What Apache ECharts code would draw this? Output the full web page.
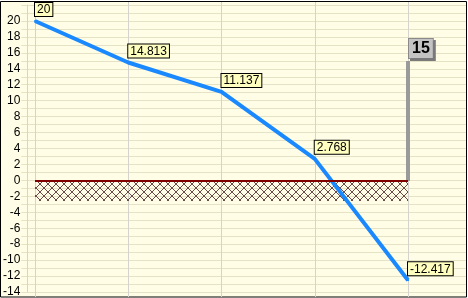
<!DOCTYPE html>
<html><head><meta charset="utf-8">
<script src="https://cdn.jsdelivr.net/npm/echarts@6/dist/echarts.min.js"></script>
<style>html,body{margin:0;padding:0;background:#fff}#c{width:468px;height:298px}</style>
</head><body><div id="c"></div>
<script>
// ---- data ----
const categories = [0, 1, 2, 3, 4];
const values = [20, 14.813, 11.137, 2.768, -12.417];
const markerCategory = [4];
const markerValue = [15];
const thresholdValue = 0;
const bandBottom = -2.5;
const yMin = -14, yMax = 22, yStep = 1;

// ---- styling ----
const FONT = 'Liberation Sans, Arial, sans-serif';
const BG = '#fffde6';
const HGRID = '#e6e2c6';
const VGRID = '#d4d4cc';

function hatch() {
  const c = document.createElement('canvas');
  c.width = 8; c.height = 8;
  const g = c.getContext('2d');
  g.fillStyle = '#6e4a4a';
  for (let i = 0; i < 8; i++) {
    g.fillRect(i, i, 1, 1);
    g.fillRect(7 - i, i, 1, 1);
  }
  return c;
}

const chart = echarts.init(document.getElementById('c'), null, {renderer: 'canvas'});
chart.setOption({
  animation: false,
  backgroundColor: '#ffffff',
  graphic: [{
    type: 'rect', z: -100, silent: true,
    shape: {x: 0.5, y: 1.5, width: 466, height: 295.5},
    style: {fill: BG, stroke: '#000', lineWidth: 1}
  }],
  grid: [
    {left: 27, right: 2, top: 5, bottom: 5},
    {left: 35, right: 60, top: 5, bottom: 5},
    {left: 35, right: 60, top: 2, bottom: 1}
  ],
  xAxis: [
    {gridIndex: 0, type: 'value', show: false, min: 0, max: 1},
    {gridIndex: 1, type: 'value', show: false, min: categories[0], max: categories[categories.length - 1]},
    {gridIndex: 2, type: 'value', min: categories[0], max: categories[categories.length - 1], interval: 1,
     axisLine: {show: false}, axisTick: {show: false}, axisLabel: {show: false},
     splitLine: {show: true, lineStyle: {color: VGRID, width: 1}}}
  ],
  yAxis: [
    {gridIndex: 0, type: 'value', min: yMin, max: yMax, interval: yStep,
     axisLine: {show: true, lineStyle: {color: VGRID, width: 1}},
     axisTick: {show: true, length: 6, lineStyle: {color: HGRID}},
     axisLabel: {show: true, margin: 7, color: '#000', fontSize: 12, fontFamily: FONT,
       formatter: v => (v % 2 === 0 && v !== yMax) ? String(v) : ''},
     splitLine: {show: true, lineStyle: {color: HGRID, width: 1}}},
    {gridIndex: 1, type: 'value', min: yMin, max: yMax, show: false},
    {gridIndex: 2, type: 'value', min: 0, max: 1, show: false}
  ],
  series: [
    {
      type: 'line', xAxisIndex: 1, yAxisIndex: 1, z: 1, data: [], silent: true,
      markArea: {
        silent: true,
        itemStyle: {color: {image: hatch(), repeat: 'repeat'}},
        data: [[{coord: [categories[0], thresholdValue]}, {coord: [categories[categories.length - 1], bandBottom]}]]
      },
      markLine: {
        silent: true, symbol: 'none', label: {show: false},
        lineStyle: {color: '#800000', width: 2, type: 'solid'},
        data: [[{coord: [categories[0], thresholdValue]}, {coord: [categories[categories.length - 1], thresholdValue]}]]
      }
    },
    {
      type: 'bar', xAxisIndex: 1, yAxisIndex: 1, z: 2, barWidth: 4,
      data: markerCategory.map((c, i) => [c, markerValue[i]]),
      itemStyle: {color: '#9a9a9a'},
      label: {
        show: true, position: [3, -3], align: 'left', verticalAlign: 'bottom',
        fontFamily: FONT, fontSize: 16, fontWeight: 'bold', color: '#000',
        backgroundColor: '#c4c4c4', borderColor: '#8a8a8a', borderWidth: 1,
        padding: [2, 3, 1, 3],
        shadowColor: '#7a7a7a', shadowOffsetX: 2, shadowOffsetY: 2, shadowBlur: 0,
        formatter: p => String(p.value[1])
      }
    },
    {
      type: 'line', xAxisIndex: 1, yAxisIndex: 1, z: 3, clip: false,
      data: categories.map((c, i) => [c, values[i]]),
      symbol: 'circle', symbolSize: 2, showSymbol: true,
      itemStyle: {color: '#1a88ff'},
      lineStyle: {color: '#1a88ff', width: 4},
      label: {
        show: true, position: [1, -4], align: 'left', verticalAlign: 'bottom',
        fontFamily: FONT, fontSize: 12, color: '#000',
        backgroundColor: '#ffffc0', borderColor: '#000', borderWidth: 1,
        padding: [1, 2, 0, 2],
        formatter: p => String(p.value[1])
      }
    }
  ]
});
</script></body></html>
